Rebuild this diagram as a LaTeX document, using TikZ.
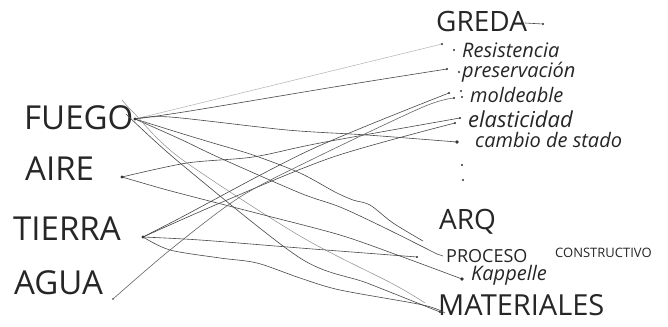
\documentclass[tikz,border=0pt]{standalone}
\usepackage{fontspec}
\setmainfont{Open Sans}
\begin{document}
\begin{tikzpicture}[x=1pt,y=-1pt,
  ink/.style={draw=black!72, line width=0.6pt, line cap=round, line join=round},
  faint/.style={draw=black!30, line width=0.5pt, line cap=round},
  caps/.style={inner sep=0pt, anchor=west, text=black!85},
  big/.style={caps, font=\fontsize{33}{33}\selectfont},
  item/.style={inner sep=0pt, anchor=west, text=black!85, font=\itshape\fontsize{20}{20}\selectfont},
  spot/.style={fill=black!80},
]
% canvas
\fill[white] (0,0) rectangle (668,326);
\path[use as bounding box] (0,0) rectangle (668,326);

% ---- left column: the four elements ----
\node[big] (fuego)  at (24,118) {FUEGO};
\node[big] (aire)   at (25,169) {AIRE};
\node[big] (tierra) at (13,229) {TIERRA};
\node[big] (agua)   at (14,283) {AGUA};

% ---- right column, top: GREDA and its properties ----
\node[caps, font=\fontsize{28}{28}\selectfont] (greda) at (436,22) {GREDA};
\node[item] (resist) at (462,50)  {Resistencia};
\node[item] (preser) at (462,72)  {preservación};
\node[item] (molde)  at (470,95)  {moldeable};
\node[item, font=\itshape\fontsize{22}{22}\selectfont] (elast) at (468,119) {elasticidad};
\node[item] (cambio) at (475,140) {cambio de stado};

% ---- right column, bottom: ARQ ----
\node[caps, font=\fontsize{28}{28}\selectfont] (arq)     at (439,222) {ARQ};
\node[caps, font=\fontsize{18}{18}\selectfont] (proceso) at (446,256) {PROCESO};
\node[caps, font=\fontsize{13}{13}\selectfont] (constr)  at (555,253) {CONSTRUCTIVO};
\node[item] (kappelle) at (471,275) {Kappelle};
\node[caps, font=\fontsize{29}{29}\selectfont] (mater)   at (438,305) {MATERIALES};

% ---- connector start points ----
\coordinate (f)  at (135,119);
\coordinate (s1) at (122,100);
\coordinate (s2) at (126,114);
\coordinate (a)  at (122,177);
\coordinate (t)  at (143,237);
\coordinate (g)  at (113,299);

% ---- connector end points ----
\coordinate (eres)  at (442,44);
\coordinate (epres) at (447,69);
\coordinate (emo1)  at (449,93);
\coordinate (emo2)  at (454,98);
\coordinate (eel1)  at (460,118);
\coordinate (eel2)  at (455,123);
\coordinate (ecam)  at (457,142);
\coordinate (ewavy) at (423,241);
\coordinate (eproc) at (437,254);
\coordinate (ekap)  at (462,279);
\coordinate (etie)  at (417,257);
\coordinate (emat1) at (425,303);
\coordinate (emat2) at (440,312);
\coordinate (emat3) at (445,313);

% ---- bullets of the GREDA list ----
\foreach \p in {(454,50),(459,72),(461,91),(462,97),(462,165),(463,180)}
  \fill[spot] \p circle (1.2);
\coordinate (gtail) at (543,24);
\draw[ink] (525,23) -- (gtail);
\fill[spot] (gtail) circle (1.1);

% ---- connectors from FUEGO ----
\draw[faint] (f) -- (eres);
\draw[ink] plot[smooth] coordinates {(f) (190,111) (340,86) (epres)};
\draw[ink] plot[smooth] coordinates {(f) (170,117) (287,130) (367,135) (ecam)};
\draw[ink] plot[smooth] coordinates {(f) (180,133) (213,143) (253,155) (300,173) (335,192) (353,200) (370,205) (393,223) (ewavy)};
\draw[ink] plot[smooth] coordinates {(f) (180,139) (220,158) (300,193) (340,207) (383,227) (eproc)};
\draw[ink] (eproc) -- (443,256);

% ---- the two steep strokes beside FUEGO ----
\draw[faint, draw=black!45] plot[smooth] coordinates {(s1) (133,112) (180,158) (300,236) (393,284) (emat1)};
\draw[ink] plot[smooth] coordinates {(s2) (180,163) (300,258) (367,283) (emat2)};

% ---- connectors from AIRE ----
\draw[ink] plot[smooth] coordinates {(a) (187,163) (253,157) (320,143) (eel1)};
\draw[ink] plot[smooth] coordinates {(a) (160,188) (190,196) (260,214) (340,235) (400,256) (ekap)};

% ---- connectors from TIERRA ----
\draw[ink] plot[smooth] coordinates {(t) (180,218) (310,150) (emo1)};
\draw[ink] plot[smooth] coordinates {(t) (220,203) (333,157) (eel2)};
\draw[ink] plot[smooth] coordinates {(t) (200,240) (300,248) (etie)};
\draw[ink] plot[smooth] coordinates {(t) (170,250) (220,258) (257,263) (300,278) (340,290) (423,305) (emat3)};

% ---- connector from AGUA ----
\draw[ink, draw=black!60] plot[smooth] coordinates {(g) (170,250) (240,197) (317,157) (423,107) (emo2)};

% ---- dots at the ends ----
\foreach \c in {f,a,t}
  \fill[spot] (\c) circle (1.6);
\foreach \c in {eres,epres,emo1,emo2,eel1,eel2,etie,emat2}
  \fill[spot] (\c) circle (1.1);
\fill[spot] (ecam) circle (1.8);
\fill[spot] (ekap) circle (1.9);
\fill[spot] (g) circle (0.8);
\end{tikzpicture}
\end{document}
